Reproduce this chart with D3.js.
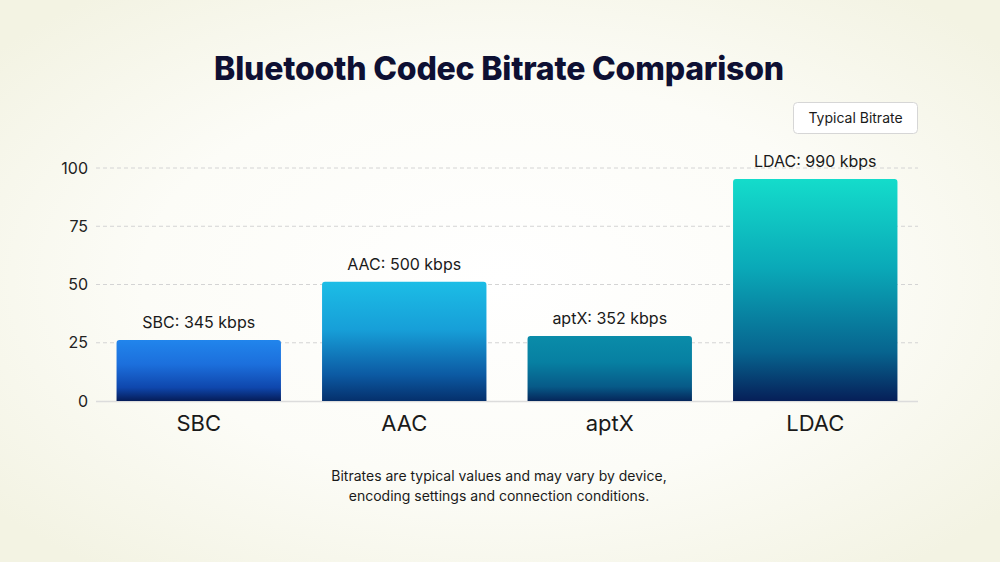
<!DOCTYPE html>
<html><head><meta charset="utf-8">
<script src="https://cdn.jsdelivr.net/npm/d3@7"></script>
<style>
html,body{margin:0;padding:0;background:#f6f6ec;}
svg{display:block;font-family:Inter,"Noto Sans",sans-serif;}
</style></head>
<body><svg id="c" width="1000" height="562"></svg>
<script>
const categories = ["SBC","AAC","aptX","LDAC"];
const values = [26.2, 51.2, 27.9, 95.3];
const valueLabels = ["SBC: 345 kbps","AAC: 500 kbps","aptX: 352 kbps","LDAC: 990 kbps"];
const yTicks = [0,25,50,75,100];
const topColors = ["#2185ec","#1cbde6","#0a8ca9","#14dccb"];
const upperColors = ["#1c6fdc","#179fd8","#0780a2","#0aa9b8"];
const lowerColors = ["#0f47ad","#0c5aa3","#075a88","#07648f"];
const bottomColors = ["#051c58","#05306c","#05265a","#061f58"];
const titleText = "Bluetooth Codec Bitrate Comparison";
const legendText = "Typical Bitrate";
const noteLines = ["Bitrates are typical values and may vary by device,","encoding settings and connection conditions."];

const svg = d3.select("#c");
const W = 1000, H = 562;
const defs = svg.append("defs");

const bg = defs.append("radialGradient").attr("id","bg").attr("cx","50%").attr("cy","50%").attr("r","65%");
bg.append("stop").attr("offset","0%").attr("stop-color","#ffffff");
bg.append("stop").attr("offset","55%").attr("stop-color","#fcfcf7");
bg.append("stop").attr("offset","100%").attr("stop-color","#f3f3e3");
svg.append("rect").attr("width",W).attr("height",H).attr("fill","url(#bg)");

categories.forEach((c,i)=>{
  const g = defs.append("linearGradient").attr("id","g"+i).attr("x1",0).attr("y1",0).attr("x2",0).attr("y2",1);
  g.append("stop").attr("offset","0%").attr("stop-color",topColors[i]);
  g.append("stop").attr("offset","40%").attr("stop-color",upperColors[i]);
  g.append("stop").attr("offset","78%").attr("stop-color",lowerColors[i]);
  g.append("stop").attr("offset","100%").attr("stop-color",bottomColors[i]);
});

const x = d3.scaleBand().domain(categories).range([96,918]).paddingInner(0.2).paddingOuter(0.1);
const y = d3.scaleLinear().domain([0,100]).range([401,168]);

// gridlines
svg.append("g").selectAll("line").data(yTicks.filter(d=>d>0)).join("line")
  .attr("x1",96).attr("x2",918).attr("y1",d=>y(d)).attr("y2",d=>y(d))
  .attr("stroke","#d4d4d4").attr("stroke-width",1).attr("stroke-dasharray","4,3");

// y axis
const yAxis = svg.append("g").attr("transform","translate(96,0)")
  .call(d3.axisLeft(y).tickValues(yTicks).tickSize(0).tickPadding(8));
yAxis.select(".domain").remove();
yAxis.selectAll("text").attr("font-size",16).attr("fill","#222").attr("font-family","Inter,sans-serif");

// baseline
svg.append("line").attr("x1",96).attr("x2",918).attr("y1",y(0)+0.5).attr("y2",y(0)+0.5)
  .attr("stroke","#dcdcdc").attr("stroke-width",1.5);

// bars
const r = 3;
svg.append("g").selectAll("path").data(categories).join("path")
  .attr("d",(c,i)=>{
    const x0 = x(c), x1 = x(c)+x.bandwidth(), yt = y(values[i]), yb = y(0);
    return `M${x0},${yb}V${yt+r}Q${x0},${yt} ${x0+r},${yt}H${x1-r}Q${x1},${yt} ${x1},${yt+r}V${yb}Z`;
  })
  .attr("fill",(c,i)=>`url(#g${i})`);

// value labels
svg.append("g").selectAll("text").data(categories).join("text")
  .attr("x",c=>x(c)+x.bandwidth()/2).attr("y",(c,i)=>y(values[i])-12)
  .attr("text-anchor","middle").attr("font-size",16).attr("fill","#1a1a1a")
  .text((c,i)=>valueLabels[i]);

// x axis labels
const xAxis = svg.append("g").attr("transform",`translate(0,${y(0)})`)
  .call(d3.axisBottom(x).tickSize(0).tickPadding(14));
xAxis.select(".domain").remove();
xAxis.selectAll("text").attr("font-size",22).attr("fill","#1a1a1a").attr("font-family","Inter,sans-serif");

// title
svg.append("text").attr("x",499).attr("y",80).attr("text-anchor","middle")
  .attr("font-size",32).attr("font-weight",800).attr("fill","#0e1033").attr("letter-spacing","-0.2")
  .text(titleText);

// legend
svg.append("rect").attr("x",793.5).attr("y",102.5).attr("width",124).attr("height",31).attr("rx",4)
  .attr("fill","#ffffff").attr("stroke","#d6d6d6");
svg.append("text").attr("x",855.5).attr("y",123).attr("text-anchor","middle")
  .attr("font-size",14).attr("fill","#1a1a1a").text(legendText);

// footnote
svg.append("g").selectAll("text").data(noteLines).join("text")
  .attr("x",499).attr("y",(d,i)=>481+i*20).attr("text-anchor","middle")
  .attr("font-size",14).attr("fill","#1a1a1a").text(d=>d);
</script></body></html>
